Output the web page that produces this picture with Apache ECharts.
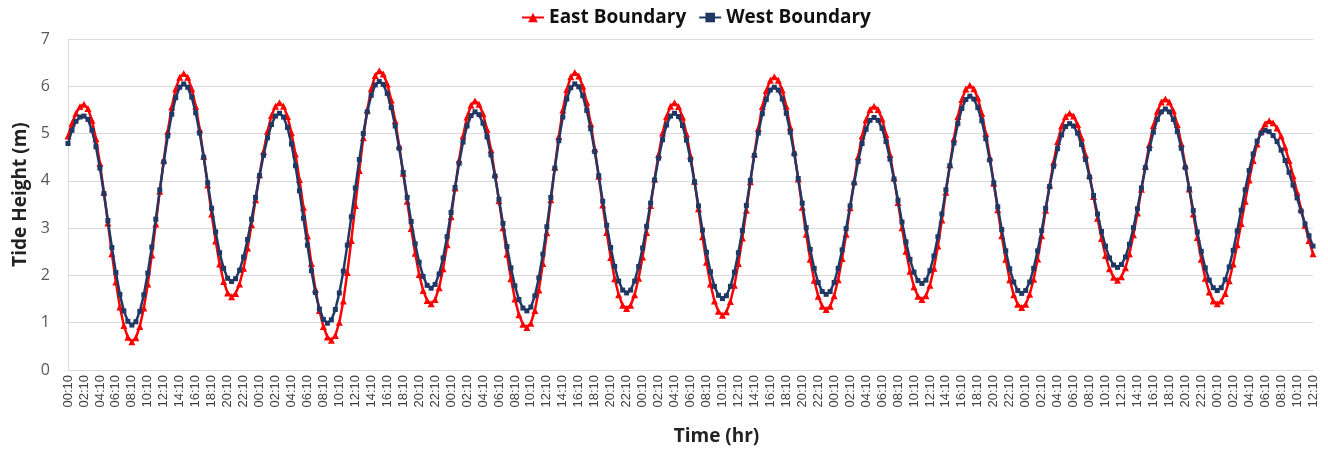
<!DOCTYPE html>
<html>
<head>
<meta charset="utf-8">
<script src="https://cdn.jsdelivr.net/npm/echarts@6/dist/echarts.min.js"></script>
<style>
html,body{margin:0;padding:0;background:#fff;}
#chart{width:1328px;height:453px;}
</style>
</head>
<body>
<div id="chart"></div>
<script>
// Time categories: every 30 minutes starting 00:10 (313 samples, 6.5 days)
const startMinute = 10;
const stepMinutes = 30;
const sampleCount = 313;
const categories = [];
for (let i = 0; i < sampleCount; i++) {
  const m = (startMinute + i * stepMinutes) % 1440;
  const hh = String(Math.floor(m / 60)).padStart(2, '0');
  const mm = String(m % 60).padStart(2, '0');
  categories.push(hh + ':' + mm);
}

const seriesNames = ['East Boundary', 'West Boundary'];
const yTicks = [0, 1, 2, 3, 4, 5, 6, 7];

const eastBoundary = [
  4.95,5.22,5.43,5.57,5.62,5.53,5.28,4.89,4.37,3.76,3.11,2.46,1.86,
  1.33,0.94,0.69,0.60,0.68,0.92,1.31,1.82,2.43,3.09,3.78,4.44,5.05,
  5.56,5.95,6.19,6.27,6.19,5.95,5.58,5.09,4.52,3.91,3.30,2.73,2.24,
  1.87,1.63,1.55,1.62,1.82,2.15,2.58,3.07,3.60,4.13,4.62,5.05,5.38,
  5.58,5.65,5.58,5.36,5.02,4.57,4.03,3.44,2.84,2.25,1.71,1.26,0.92,
  0.70,0.63,0.73,1.01,1.46,2.06,2.74,3.48,4.22,4.91,5.50,5.95,6.23,
  6.33,6.26,6.05,5.71,5.27,4.74,4.16,3.57,2.99,2.47,2.02,1.68,1.47,
  1.40,1.49,1.74,2.14,2.65,3.24,3.85,4.44,4.95,5.35,5.60,5.69,5.62,
  5.42,5.09,4.66,4.14,3.58,3.01,2.45,1.93,1.50,1.17,0.97,0.90,0.99,
  1.26,1.69,2.25,2.90,3.60,4.29,4.94,5.50,5.93,6.20,6.29,6.22,6.00,
  5.66,5.21,4.68,4.10,3.49,2.91,2.38,1.93,1.59,1.37,1.30,1.37,1.59,
  1.94,2.39,2.91,3.48,4.04,4.56,5.01,5.36,5.58,5.65,5.57,5.35,4.99,
  4.53,3.99,3.41,2.82,2.28,1.82,1.46,1.24,1.16,1.23,1.45,1.79,2.25,
  2.79,3.38,3.98,4.57,5.11,5.57,5.91,6.13,6.20,6.13,5.92,5.58,5.14,
  4.61,4.04,3.44,2.87,2.34,1.90,1.56,1.35,1.28,1.35,1.57,1.91,2.36,
  2.87,3.43,3.99,4.51,4.95,5.29,5.51,5.58,5.51,5.31,4.98,4.56,4.06,
  3.54,3.01,2.51,2.09,1.76,1.56,1.49,1.57,1.79,2.15,2.62,3.17,3.76,
  4.34,4.89,5.36,5.72,5.94,6.02,5.95,5.75,5.43,5.00,4.50,3.95,3.39,
  2.84,2.34,1.91,1.59,1.39,1.32,1.39,1.60,1.92,2.35,2.84,3.38,3.91,
  4.40,4.83,5.16,5.36,5.43,5.37,5.19,4.91,4.55,4.12,3.67,3.21,2.78,
  2.42,2.14,1.96,1.90,1.97,2.16,2.46,2.86,3.32,3.82,4.31,4.77,5.17,
  5.47,5.67,5.73,5.67,5.48,5.19,4.79,4.33,3.83,3.30,2.80,2.34,1.94,
  1.65,1.46,1.40,1.46,1.62,1.89,2.24,2.65,3.10,3.57,4.02,4.43,4.78,
  5.05,5.21,5.27,5.23,5.12,4.95,4.71,4.43,4.11,3.76,3.41,3.06,2.74,
  2.46
];

const westBoundary = [
  4.79,5.07,5.26,5.35,5.37,5.30,5.07,4.72,4.27,3.73,3.16,2.59,2.06,
  1.60,1.25,1.03,0.95,1.02,1.24,1.59,2.05,2.60,3.19,3.81,4.40,4.95,
  5.41,5.76,5.98,6.05,5.98,5.77,5.44,5.01,4.50,3.96,3.42,2.92,2.48,
  2.15,1.94,1.87,1.93,2.11,2.39,2.76,3.19,3.65,4.11,4.54,4.91,5.19,
  5.37,5.43,5.35,5.13,4.78,4.32,3.79,3.21,2.64,2.10,1.64,1.29,1.07,
  0.99,1.06,1.28,1.63,2.09,2.64,3.24,3.85,4.45,5.00,5.46,5.81,6.03,
  6.10,6.04,5.85,5.55,5.16,4.69,4.18,3.65,3.14,2.67,2.28,1.98,1.79,
  1.73,1.81,2.03,2.37,2.82,3.33,3.86,4.37,4.82,5.16,5.38,5.46,5.40,
  5.22,4.93,4.55,4.10,3.61,3.10,2.61,2.16,1.78,1.49,1.31,1.25,1.33,
  1.57,1.95,2.45,3.03,3.65,4.27,4.85,5.35,5.73,5.97,6.05,5.99,5.80,
  5.49,5.10,4.62,4.11,3.57,3.06,2.59,2.19,1.88,1.69,1.63,1.69,1.88,
  2.19,2.58,3.04,3.53,4.02,4.48,4.87,5.18,5.37,5.43,5.36,5.17,4.86,
  4.45,3.98,3.47,2.96,2.49,2.08,1.77,1.58,1.51,1.57,1.77,2.07,2.48,
  2.95,3.48,4.01,4.54,5.01,5.42,5.72,5.92,5.98,5.92,5.73,5.43,5.03,
  4.57,4.05,3.53,3.01,2.55,2.15,1.85,1.66,1.60,1.66,1.85,2.15,2.54,
  2.99,3.47,3.95,4.41,4.79,5.09,5.28,5.34,5.28,5.11,4.83,4.46,4.04,
  3.59,3.13,2.71,2.34,2.07,1.89,1.83,1.90,2.10,2.41,2.82,3.30,3.81,
  4.32,4.80,5.21,5.53,5.72,5.79,5.73,5.55,5.27,4.89,4.44,3.96,3.45,
  2.97,2.52,2.14,1.86,1.68,1.62,1.68,1.86,2.15,2.52,2.95,3.42,3.88,
  4.31,4.68,4.97,5.15,5.21,5.16,5.01,4.77,4.45,4.08,3.69,3.30,2.93,
  2.62,2.37,2.22,2.17,2.23,2.39,2.66,3.01,3.41,3.85,4.28,4.68,5.03,
  5.30,5.46,5.52,5.46,5.30,5.04,4.69,4.28,3.83,3.37,2.92,2.51,2.16,
  1.90,1.74,1.68,1.74,1.91,2.18,2.53,2.94,3.38,3.81,4.22,4.57,4.84,
  5.01,5.07,5.04,4.96,4.83,4.65,4.43,4.18,3.91,3.64,3.36,3.09,2.84,
  2.62
];

const chart = echarts.init(document.getElementById('chart'), null, {renderer: 'canvas'});
const option = {
  animation: false,
  backgroundColor: '#ffffff',
  legend: {
    top: 3,
    left: 516,
    itemGap: 12,
    itemWidth: 22,
    itemHeight: 12,
    textStyle: {fontFamily: 'Open Sans', fontWeight: 'bold', fontSize: 19, color: '#111'},
    data: seriesNames
  },
  grid: {left: 68, right: 15, top: 39, bottom: 83, containLabel: false},
  xAxis: {
    type: 'category',
    boundaryGap: false,
    data: categories,
    name: 'Time (hr)',
    nameLocation: 'middle',
    nameGap: 57,
    nameTextStyle: {fontFamily: 'Open Sans', fontWeight: 'bold', fontSize: 19, color: '#222', padding: [0, 0, 0, 52]},
    axisLine: {lineStyle: {color: '#d9d9d9', width: 1}},
    axisTick: {show: false},
    axisLabel: {interval: 3, rotate: 90, fontFamily: 'Liberation Sans', fontSize: 13, color: '#404040', margin: 5},
    splitLine: {show: false}
  },
  yAxis: {
    type: 'value',
    min: yTicks[0],
    max: yTicks[yTicks.length - 1],
    interval: 1,
    name: 'Tide Height (m)',
    nameLocation: 'middle',
    nameGap: 33,
    nameTextStyle: {fontFamily: 'Open Sans', fontWeight: 'bold', fontSize: 19, color: '#222', padding: [0, 0, 0, 20]},
    axisLine: {show: true, lineStyle: {color: '#d9d9d9', width: 1}},
    axisTick: {show: false},
    axisLabel: {fontFamily: 'Open Sans', fontSize: 16, color: '#595959', margin: 18},
    splitLine: {show: true, lineStyle: {color: '#d9d9d9', width: 1}}
  },
  series: [
    {
      name: seriesNames[0],
      type: 'line',
      data: eastBoundary,
      symbol: 'triangle',
      symbolSize: 7,
      showAllSymbol: true,
      itemStyle: {color: '#ff0000'},
      lineStyle: {color: '#ff0000', width: 2.5},
      z: 2
    },
    {
      name: seriesNames[1],
      type: 'line',
      data: westBoundary,
      symbol: 'rect',
      symbolSize: 5,
      showAllSymbol: true,
      itemStyle: {color: '#1f3864'},
      lineStyle: {color: '#1f3864', width: 2.5},
      z: 3
    }
  ]
};
chart.setOption(option);
</script>
</body>
</html>
